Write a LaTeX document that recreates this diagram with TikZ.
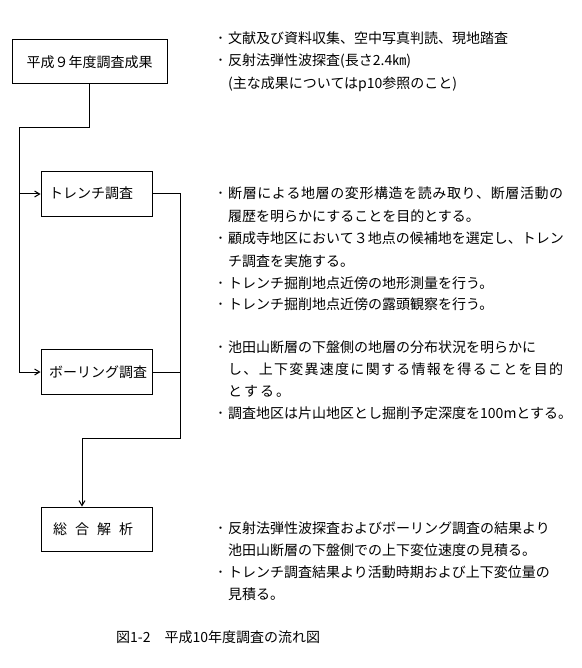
\documentclass[tikz,border=0pt]{standalone}
\usepackage{fontspec}
\setmainfont{Noto Sans CJK JP}
\usetikzlibrary{arrows.meta}
\makeatletter
\def\spreadto#1#2{\makebox[#1][s]{\spr@a#2\@nil}}
\def\spr@a#1#2\@nil{#1\@tfor\spr@c:=#2\do{\hfil\spr@c}}
\makeatother
\begin{document}
\begin{tikzpicture}[x=1pt,y=-1pt,
  font=\fontsize{14}{16}\selectfont,
  box/.style={draw,line width=1pt,rectangle,inner sep=0pt,minimum width=111pt},
  txt/.style={anchor=base west,inner sep=0pt},
  bul/.style={anchor=base,inner sep=0pt},
  conn/.style={line width=1pt},
  arr/.style={line width=1pt,-{Straight Barb[length=5pt,width=6pt]}}]
\useasboundingbox (0,0) rectangle (581,668);
\fill[white] (0,0) rectangle (581,668);
% boxes
\node[box,minimum width=155pt,minimum height=44pt] (b1) at (89.5,62) {平成９年度調査成果};
\node[box,minimum height=44pt] (b2) at (96.5,194) {};
\node[box,minimum height=45pt] (b3) at (96.5,372) {};
\node[box,minimum height=44pt] (b4) at (96.5,529) {};
\node[txt] (t2) at (49,199) {トレンチ調査};
\node[txt] (t3) at (49,377) {ボーリング調査};
\node[txt] (t4) at (53,534) {総\hspace{8pt}合\hspace{8pt}解\hspace{8pt}析};
% connectors
\coordinate (j1) at (19,128);
\coordinate (r1) at (180,438);
\coordinate (j3) at (82,438);
\draw[conn] (b1.south) |- (j1);
\draw[arr] (j1) |- (b3.west);
\draw[arr] (j1 |- b2.west) -- (b2.west);
\draw[conn] (b2.east) -| (r1) -- (j3);
\draw[conn] (b3.east) -- (b3.east -| r1);
\draw[arr] (j3) -- (j3 |- b4.north);
% text block A
\node[bul] (a0) at (220.5,44) {･};
\node[txt] (a1) at (228,44) {文献及び資料収集、空中写真判読、現地踏査};
\node[bul] (a2) at (220.5,66) {･};
\node[txt] (a3) at (228,66) {反射法弾性波探査(長さ2.4㎞)};
\node[txt] (a4) at (228,89) {(主な成果についてはp10参照のこと)};
% text block B
\node[bul] (c0) at (220.5,198) {･};
\node[txt] (c1) at (228,198) {\spreadto{335pt}{断層による地層の変形構造を読み取り、断層活動の}};
\node[txt] (c2) at (228,221) {履歴を明らかにすることを目的とする。};
\node[bul] (c3) at (220.5,243) {･};
\node[txt] (c4) at (228,243) {顧成寺地区において３地点の候補地を選定し、トレン};
\node[txt] (c5) at (228,266) {チ調査を実施する。};
\node[bul] (c6) at (220.5,288) {･};
\node[txt] (c7) at (228,288) {トレンチ掘削地点近傍の地形測量を行う。};
\node[bul] (c8) at (220.5,309) {･};
\node[txt] (c9) at (228,309) {トレンチ掘削地点近傍の露頭観察を行う。};
% text block C
\node[bul] (d0) at (220.5,352) {･};
\node[txt] (d1) at (228,352) {池田山断層の下盤側の地層の分布状況を明らかに};
\node[txt] (d2) at (228,374) {\spreadto{335pt}{し、上下変異速度に関する情報を得ることを目的}};
\node[txt] (d3) at (228,396) {\spreadto{62pt}{とする。}};
\node[bul] (d4) at (220.5,418) {･};
\node[txt] (d5) at (228,418) {調査地区は片山地区とし掘削予定深度を100mとする。};
% text block D
\node[bul] (e0) at (220.5,533) {･};
\node[txt] (e1) at (228,533) {反射法弾性波探査およびボーリング調査の結果より};
\node[txt] (e2) at (228,555) {池田山断層の下盤側での上下変位速度の見積る。};
\node[bul] (e3) at (220.5,577) {･};
\node[txt] (e4) at (228,577) {トレンチ調査結果より活動時期および上下変位量の};
\node[txt] (e5) at (228,599) {見積る。};
% caption
\node[txt] (cap) at (116,642) {図1-2　平成10年度調査の流れ図};
\end{tikzpicture}
\end{document}
